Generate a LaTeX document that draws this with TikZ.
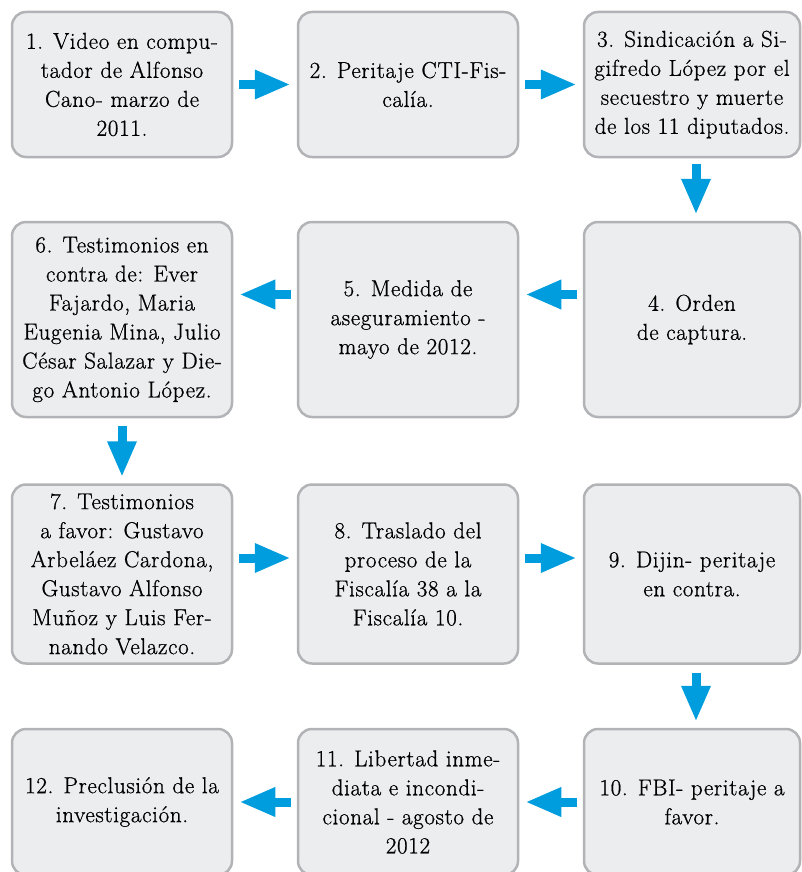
\documentclass[tikz,border=0pt]{standalone}
\usepackage{fontspec}
\setmainfont{Latin Modern Roman}[LetterSpace=3, FakeBold=0.8]
\usetikzlibrary{arrows.meta}
\definecolor{boxfill}{RGB}{236,237,239}
\definecolor{boxline}{RGB}{178,179,182}
\definecolor{arrblue}{RGB}{0,157,222}
\tikzset{
  stepbox/.style={draw=boxline, fill=boxfill, line width=2.5pt, rounded corners=14pt,
    align=center, inner sep=0pt, font=\fontsize{23}{29}\selectfont},
  bigarr/.style={draw=arrblue, line width=9pt, -{Triangle[length=36pt,width=27pt]},
    shorten <=6pt, shorten >=6pt}
}
\begin{document}
\begin{tikzpicture}[x=1pt,y=1pt]
\useasboundingbox (0,0) rectangle (802,-872);
\clip (0,0) rectangle (802,-872);
% row 1
\node[stepbox, minimum width=220pt, minimum height=145pt] (b1) at (122,-84.5)
  {1. Video en compu-\\tador de Alfonso\\Cano- marzo de\\2011.};
\node[stepbox, minimum width=220pt, minimum height=145pt] (b2) at (408,-84.5)
  {2. Peritaje CTI-Fis-\\calía.};
\node[stepbox, minimum width=216pt, minimum height=145pt] (b3) at (692,-84.5)
  {3. Sindicación a Si-\\gifredo López por el\\secuestro y muerte\\de los 11 diputados.};
% row 2
\node[stepbox, minimum width=216pt, minimum height=195pt] (b4) at (692,-319.5)
  {4. Orden\\de captura.};
\node[stepbox, minimum width=220pt, minimum height=195pt] (b5) at (408,-319.5)
  {5. Medida de\\aseguramiento -\\mayo de 2012.};
\node[stepbox, minimum width=220pt, minimum height=195pt] (b6) at (122,-319.5)
  {6. Testimonios en\\contra de: Ever\\Fajardo, Maria\\Eugenia Mina, Julio\\César Salazar y Die-\\go Antonio López.};
% row 3
\node[stepbox, minimum width=220pt, minimum height=179pt] (b7) at (122,-574)
  {7. Testimonios\\a favor: Gustavo\\Arbeláez Cardona,\\Gustavo Alfonso\\Muñoz y Luis Fer-\\nando Velazco.};
\node[stepbox, minimum width=220pt, minimum height=179pt] (b8) at (408,-574)
  {8. Traslado del\\proceso de la\\Fiscalía 38 a la\\Fiscalía 10.};
\node[stepbox, minimum width=216pt, minimum height=179pt] (b9) at (692,-574)
  {9. Dijin- peritaje\\en contra.};
% row 4
\node[stepbox, minimum width=216pt, minimum height=146pt] (b10) at (692,-802)
  {10. FBI- peritaje a\\favor.};
\node[stepbox, minimum width=220pt, minimum height=146pt] (b11) at (408,-802)
  {11. Libertad inme-\\diata e incondi-\\cional - agosto de\\2012};
\node[stepbox, minimum width=220pt, minimum height=146pt] (b12) at (122,-802)
  {12. Preclusión de la\\investigación.};
% arrows
\draw[bigarr] (b1.east) -- (b2.west);
\draw[bigarr] (b2.east) -- (b3.west);
\draw[bigarr] ([xshift=4pt]b3.south) -- ([xshift=4pt]b4.north);
\draw[bigarr] ([yshift=25pt]b4.west) -- ([yshift=25pt]b5.east);
\draw[bigarr] ([yshift=25pt]b5.west) -- ([yshift=25pt]b6.east);
\draw[bigarr, shorten <=8pt] (b6.south) -- (b7.north);
\draw[bigarr] ([yshift=16pt]b7.east) -- ([yshift=16pt]b8.west);
\draw[bigarr] ([yshift=16pt]b8.east) -- ([yshift=16pt]b9.west);
\draw[bigarr, shorten <=8pt] ([xshift=4pt]b9.south) -- ([xshift=4pt]b10.north);
\draw[bigarr] (b10.west) -- (b11.east);
\draw[bigarr] (b11.west) -- (b12.east);
\end{tikzpicture}
\end{document}
